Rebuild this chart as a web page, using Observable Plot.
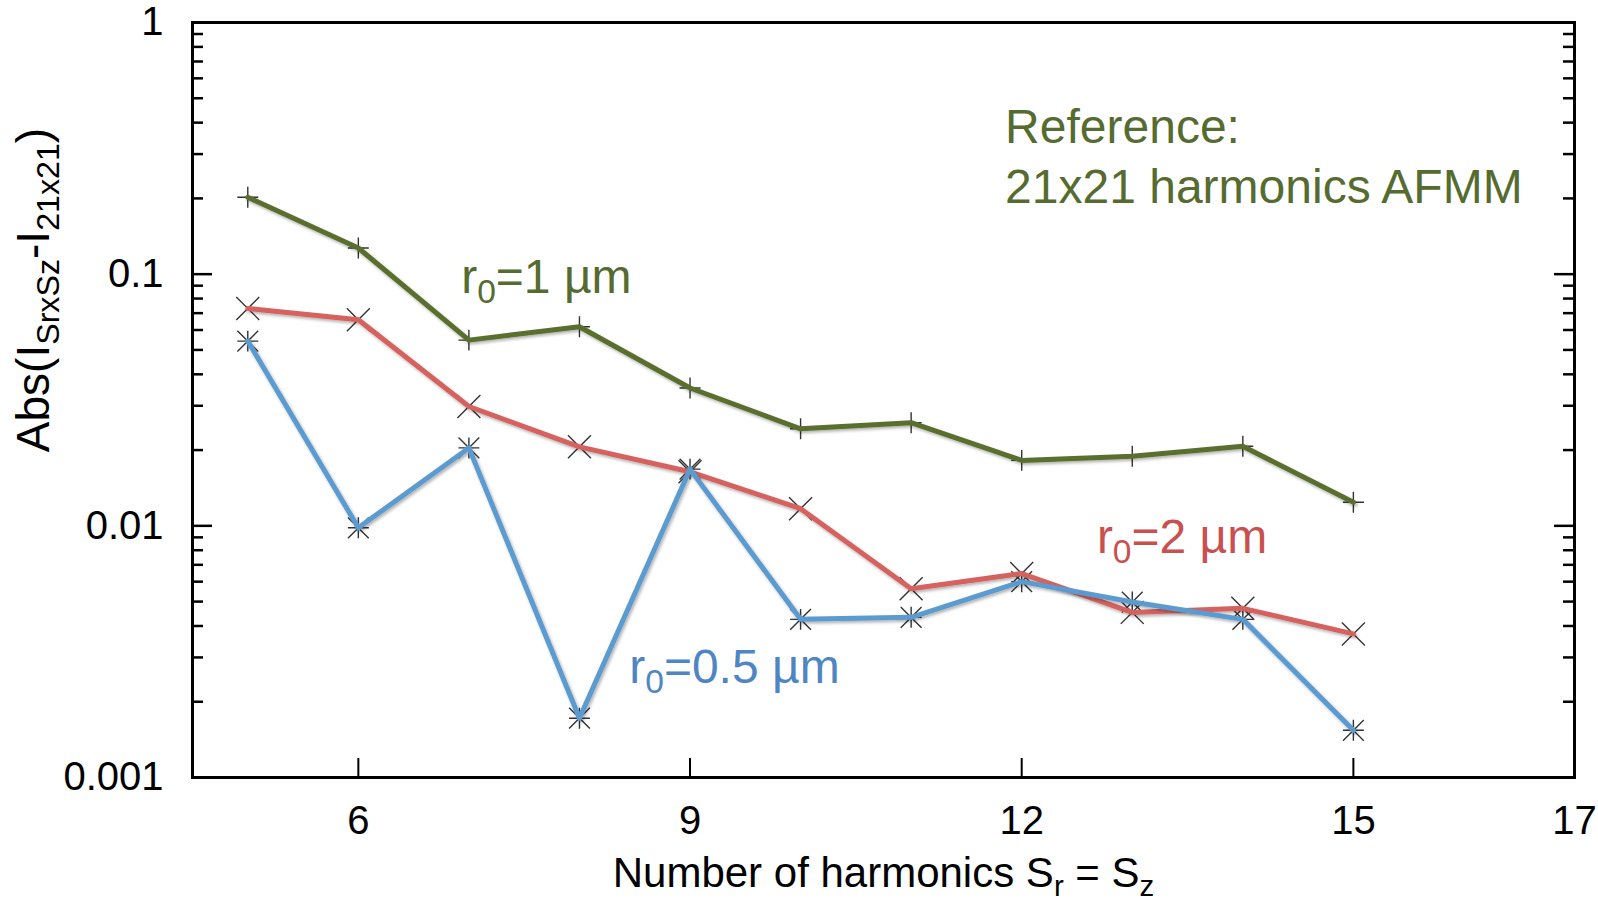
<!DOCTYPE html>
<html><head><meta charset="utf-8">
<script src="https://cdn.jsdelivr.net/npm/d3@7"></script>
<script src="https://cdn.jsdelivr.net/npm/@observablehq/plot@0.6"></script>
<style>html,body{margin:0;padding:0;background:#fff;overflow:hidden}</style>
</head><body><div id="chart"></div>
<script>
// ---- data ----
const harmonics = [5, 6, 7, 8, 9, 10, 11, 12, 13, 14, 15];
const errR1  = [0.202, 0.127, 0.0547, 0.0618, 0.0353, 0.0243, 0.0257, 0.0182, 0.0189, 0.0207, 0.0124];
const errR2  = [0.0731, 0.0659, 0.0298, 0.0206, 0.0164, 0.0117, 0.00562, 0.00646, 0.00453, 0.0047, 0.00372];
const errR05 = [0.0542, 0.00982, 0.0204, 0.00172, 0.0168, 0.00425, 0.00433, 0.0060, 0.00498, 0.00425, 0.00154];
const seriesNames = ["r_{0}=1 µm", "r_{0}=2 µm", "r_{0}=0.5 µm"];
const xTickLabels = [6, 9, 12, 15, 17];
const xTickMarks = [6, 9, 12, 15];
const yTickLabels = [1, 0.1, 0.01, 0.001];
const refNote = ["Reference:", "21x21 harmonics AFMM"];
const xTitle = "Number of harmonics S_{r} = S_{z}";
const yTitle = "Abs(I_{SrxSz}-I_{21x21})";

// ---- derived ----
const seriesValues = [errR1, errR2, errR05];
const rows = seriesValues.flatMap((vals, s) => harmonics.map((h, i) => ({h, v: vals[i], s})));
const yMajor = [0.1, 0.01];
const yMinor = [0.001, 0.01, 0.1].flatMap(d => d3.range(2, 10).map(k => +(k * d).toPrecision(3)));

const W = 1598, H = 902, mL = 192, mR = 24, mT = 22, mB = 125;
const innerW = W - mL - mR, innerH = H - mT - mB;
const FONT = "'Liberation Sans', Arial, Helvetica, sans-serif";
const lineColors = ["#5a6e2e", "#d5625e", "#5b9bd0"];
const textColors = ["#566b2f", "#c9504e", "#4e86c4"];
const mk = "#333";

const bySeries = s => rows.filter(d => d.s === s);

const chart = Plot.plot({
  width: W, height: H,
  marginLeft: mL, marginRight: mR, marginTop: mT, marginBottom: mB,
  style: {fontFamily: FONT, fontSize: "40px", color: "black", background: "white"},
  x: {domain: [4.5, 17]},
  y: {type: "log", domain: [0.001, 1]},
  marks: [
    // inward ticks
    Plot.tickY(yMajor, {y: d => d, insetRight: innerW - 20, stroke: "black", strokeWidth: 2.5}),
    Plot.tickY(yMinor, {y: d => d, insetRight: innerW - 11, stroke: "black", strokeWidth: 2.5}),
    Plot.tickY(yMajor, {y: d => d, insetLeft: innerW - 20, stroke: "black", strokeWidth: 2.5}),
    Plot.tickY(yMinor, {y: d => d, insetLeft: innerW - 11, stroke: "black", strokeWidth: 2.5}),
    Plot.tickX(xTickMarks, {x: d => d, insetTop: innerH - 19, stroke: "black", strokeWidth: 2}),
    // markers
    Plot.dot(bySeries(0), {x: "h", y: "v", symbol: "plus", r: 6.8, stroke: mk, strokeWidth: 1.4}),
    Plot.dot(bySeries(1), {x: "h", y: "v", symbol: "times", r: 10.5, stroke: mk, strokeWidth: 1.4}),
    Plot.dot(bySeries(2), {x: "h", y: "v", symbol: "times", r: 9.5, stroke: mk, strokeWidth: 1.4}),
    Plot.dot(bySeries(2), {x: "h", y: "v", symbol: "plus", r: 6.8, stroke: mk, strokeWidth: 1.4}),
    // lines
    Plot.line(bySeries(1), {x: "h", y: "v", stroke: lineColors[1], strokeWidth: 5}),
    Plot.line(bySeries(2), {x: "h", y: "v", stroke: lineColors[2], strokeWidth: 5}),
    Plot.line(bySeries(0), {x: "h", y: "v", stroke: lineColors[0], strokeWidth: 5}),
    Plot.frame({stroke: "black", strokeWidth: 3}),
    // axes
    Plot.axisY(yTickLabels, {anchor: "left", tickSize: 0, tickPadding: 29, tickFormat: d => String(d), label: null, fontSize: 40}),
    Plot.axisX(xTickLabels, {anchor: "bottom", tickSize: 0, tickPadding: 28, tickFormat: d => String(d), label: null, fontSize: 40}),
    // annotations
    Plot.text([seriesNames[0]], {x: 6.93, y: 0.0844, text: d => d, textAnchor: "start", lineAnchor: "bottom", fontSize: 48, fill: textColors[0]}),
    Plot.text([seriesNames[1]], {x: 12.68, y: 0.00781, text: d => d, textAnchor: "start", lineAnchor: "bottom", fontSize: 48, fill: textColors[1]}),
    Plot.text([seriesNames[2]], {x: 8.45, y: 0.00238, text: d => d, textAnchor: "start", lineAnchor: "bottom", fontSize: 48, fill: textColors[2]}),
    Plot.text([refNote[0]], {x: 11.85, y: 0.333, text: d => d, textAnchor: "start", lineAnchor: "bottom", fontSize: 48, fill: textColors[0]}),
    Plot.text([refNote[1]], {x: 11.85, y: 0.1924, text: d => d, textAnchor: "start", lineAnchor: "bottom", fontSize: 48, fill: textColors[0]}),
    Plot.text([xTitle], {frameAnchor: "bottom", dy: 109, text: d => d, textAnchor: "middle", lineAnchor: "bottom", fontSize: 42, fill: "black"}),
    Plot.text([yTitle], {frameAnchor: "left", dx: -158, dy: -110, rotate: -90, text: d => d, textAnchor: "middle", lineAnchor: "middle", fontSize: 46, fill: "black"})
  ]
});

document.getElementById("chart").appendChild(chart);

// drop shadow on lines
const svg = d3.select(chart);
const defs = svg.insert("defs", ":first-child");
defs.append("filter").attr("id", "shadow").attr("x", "-5%").attr("y", "-10%").attr("width", "110%").attr("height", "130%")
  .append("feDropShadow").attr("dx", 1.5).attr("dy", 2).attr("stdDeviation", 1.5)
  .attr("flood-color", "#000").attr("flood-opacity", 0.3);
svg.selectAll('g[aria-label="line"]').attr("filter", "url(#shadow)");

// subscripts
svg.selectAll("text").each(function() {
  const t = this.textContent;
  if (!t.includes("_{")) return;
  const fs = parseFloat(getComputedStyle(this).fontSize) || 40;
  const parts = t.split(/(_\{[^}]*\})/).filter(Boolean);
  this.textContent = "";
  let shifted = false;
  for (const p of parts) {
    const m = p.match(/^_\{(.*)\}$/);
    const ts = document.createElementNS("http://www.w3.org/2000/svg", "tspan");
    if (m) {
      ts.textContent = m[1];
      ts.setAttribute("font-size", fs * 0.7);
      ts.setAttribute("dy", fs * 0.22);
      shifted = true;
    } else {
      ts.textContent = p;
      if (shifted) { ts.setAttribute("dy", -fs * 0.22); shifted = false; }
    }
    this.appendChild(ts);
  }
});
</script>
</body></html>
